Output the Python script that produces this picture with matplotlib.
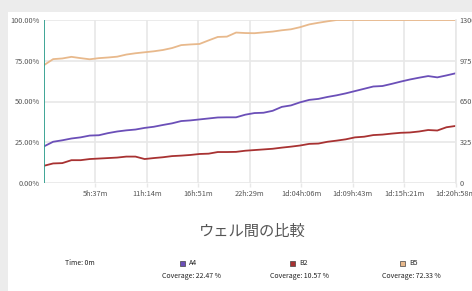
import numpy as np
import matplotlib.pyplot as plt
from matplotlib.patches import Rectangle

plt.rcParams['font.family'] = ['Noto Sans CJK JP', 'DejaVu Sans']

# time axis (minutes), 46 samples up to 1d:20h:58m
total_min = 2698
n_points = 46
tick_labels = ["5h:37m", "11h:14m", "16h:51m", "22h:29m",
               "1d:04h:06m", "1d:09h:43m", "1d:15h:21m", "1d:20h:58m"]
wells = ["A4", "B2", "B5"]
colors = ["#6b4fb8", "#a83232", "#e8b98c"]
coverage_at_0 = [22.47, 10.57, 72.33]

a4 = [22.47, 25.3, 26.2, 27.3, 28.0, 29.1, 29.3, 30.6, 31.6, 32.3, 32.8, 33.8,
      34.5, 35.6, 36.6, 38.0, 38.4, 39.0, 39.6, 40.2, 40.3, 40.3, 41.9, 42.9,
      43.1, 44.3, 46.7, 47.6, 49.5, 51.0, 51.6, 52.8, 53.8, 55.0, 56.4, 57.8,
      59.2, 59.5, 60.8, 62.2, 63.5, 64.6, 65.6, 64.8, 66.0, 67.3]
b2 = [10.57, 12.0, 12.2, 14.0, 14.0, 14.7, 15.0, 15.3, 15.6, 16.2, 16.2, 14.7,
      15.3, 15.8, 16.5, 16.8, 17.2, 17.8, 18.0, 19.0, 19.0, 19.1, 19.8, 20.2,
      20.6, 21.0, 21.7, 22.3, 23.0, 24.0, 24.2, 25.3, 26.0, 26.8, 28.0, 28.4,
      29.4, 29.7, 30.3, 30.8, 31.0, 31.6, 32.5, 32.2, 34.2, 35.0]
b5 = [72.33, 76.0, 76.4, 77.4, 76.6, 75.9, 76.6, 77.0, 77.5, 78.8, 79.6, 80.2,
      80.8, 81.6, 82.8, 84.6, 85.0, 85.3, 87.5, 89.6, 89.8, 92.3, 92.0, 91.9,
      92.4, 92.9, 93.7, 94.3, 95.6, 97.3, 98.3, 99.2, 100, 100, 100, 100,
      100, 100, 100, 100, 100, 100, 100, 100, 100, 100]

t = np.linspace(0, total_min, n_points)
W, H = 472, 291

fig = plt.figure(figsize=(W / 100, H / 100), dpi=100, facecolor="#ececec")
fig.patches.append(Rectangle((8 / W, 0), 1, 1 - 12 / H, transform=fig.transFigure,
                             facecolor="white", edgecolor="none", zorder=-1))

ax = fig.add_axes([44 / W, 1 - 183 / H, (455.6 - 44) / W, (183 - 20) / H])
ax.set_facecolor("white")
for vals, c in zip([b5, a4, b2], [colors[2], colors[0], colors[1]]):
    ax.plot(t, vals, color=c, lw=1.3, zorder=3)

ax.set_xlim(0, total_min)
ax.set_ylim(0, 100)
ax.set_xticks(np.linspace(0, total_min, 9)[1:])
ax.set_xticklabels(tick_labels)
ax.set_yticks([0, 25, 50, 75, 100])
ax.set_yticklabels(["0.00%", "25.00%", "50.00%", "75.00%", "100.00%"])
ax.grid(color="#e8e8e8", lw=1.2)
ax.tick_params(labelsize=5.3, colors="#555555", length=2, width=1, pad=2)
ax.tick_params(axis="x", color="#e8e8e8", length=3)
ax.tick_params(axis="y", length=0, pad=3)
for s in ax.spines.values():
    s.set_visible(False)
ax.axvline(0, color="#2f9e8e", lw=1.3, zorder=4)

ax2 = ax.twinx()
ax2.set_ylim(0, 1300)
ax2.set_yticks([0, 325, 650, 975, 1300])
ax2.tick_params(labelsize=5.3, colors="#555555", length=0, pad=3)
for s in ax2.spines.values():
    s.set_visible(False)
ax2.spines["right"].set_visible(True)
ax2.spines["right"].set_color("#e8e8e8")
ax2.spines["right"].set_linewidth(1.2)

fig.text(252 / W, 1 - 231 / H, "ウェル間の比較", ha="center", va="center",
         fontsize=11, color="#555555")

fig.text(65 / W, 1 - 263 / H, "Time: 0m", fontsize=5, va="center", color="#222222")
sq_x = [180, 290, 400]
cov_x = [191, 300, 411]
for i in range(3):
    fig.patches.append(Rectangle((sq_x[i] / W, 1 - 266 / H), 5 / W, 5 / H,
                                 transform=fig.transFigure, facecolor=colors[i],
                                 edgecolor="#444444", lw=0.5))
    fig.text((sq_x[i] + 9) / W, 1 - 263 / H, wells[i], fontsize=5, va="center",
             color="#222222")
    fig.text(cov_x[i] / W, 1 - 276 / H, f"Coverage: {coverage_at_0[i]:.2f} %",
             fontsize=5, va="center", ha="center", color="#222222")

fig.savefig("out.png", dpi=100, facecolor=fig.get_facecolor())
